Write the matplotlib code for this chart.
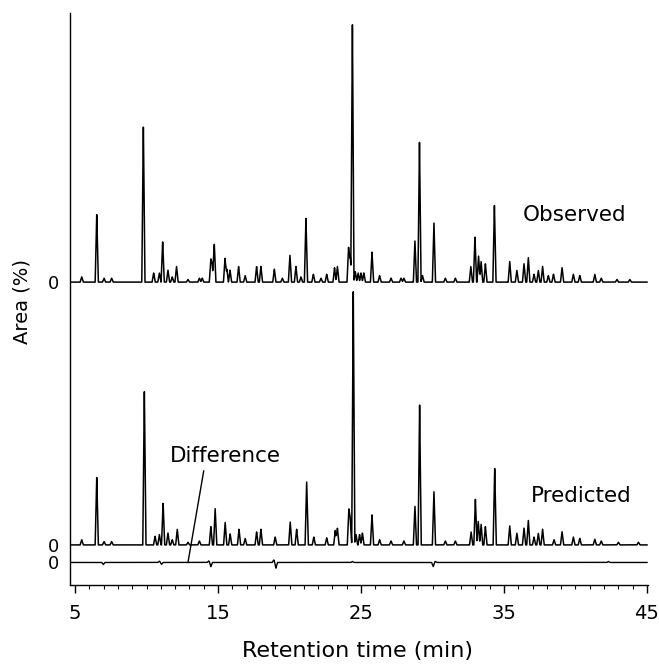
import numpy as np
import matplotlib
matplotlib.use("Agg")
import matplotlib.pyplot as plt
from matplotlib.ticker import MultipleLocator

# peak retention times (min) and heights (% area, arbitrary scale)
obs_time = [5.47, 6.52, 7.03, 7.56, 9.78, 10.5, 10.9, 11.13, 11.5, 11.8, 12.1, 12.9,
            13.7, 13.9, 14.5, 14.6, 14.74, 15.49, 15.62, 15.84, 16.44, 16.9, 17.7, 18.0,
            18.94, 19.5, 20.03, 20.45, 20.8, 21.15, 21.67, 22.2, 22.6, 23.15, 23.35,
            24.13, 24.25, 24.4, 24.6, 24.8, 25.0, 25.2, 25.77, 26.3, 27.1, 27.8, 28.0,
            28.77, 29.09, 29.3, 30.1, 30.9, 31.6, 32.68, 32.97, 33.22, 33.4, 33.7, 34.33,
            35.4, 35.9, 36.4, 36.7, 37.1, 37.4, 37.7, 38.1, 38.46, 39.06, 39.85, 40.3,
            41.35, 41.8, 42.9, 43.8]
obs_area = [2, 26, 1.5, 1.5, 60, 3.5, 3.5, 15.5, 4.6, 2, 6, 1,
            1.5, 1.5, 8.4, 6, 14.5, 9.2, 5, 4.6, 6, 2.5, 6, 6,
            5, 1.5, 10.3, 6, 2, 24.4, 3, 1.5, 3, 5.5, 6,
            13.5, 10, 99, 4, 3.5, 3.5, 3.5, 11.5, 2.5, 1.5, 1.5, 1.5,
            16, 53.5, 2.5, 23, 1.5, 1.5, 6, 17.3, 10, 8, 7, 29.4,
            8, 4.5, 7, 9.5, 3, 4.5, 6, 2.5, 3, 5.5, 3, 2.5,
            3, 1.5, 1, 1]

pred_time = [5.47, 6.52, 7.03, 7.56, 9.85, 10.6, 10.9, 11.16, 11.5, 11.8, 12.15, 12.9,
             13.7, 14.5, 14.8, 15.5, 15.85, 16.47, 16.9, 17.7, 18.0, 19.0, 20.05, 20.5,
             21.2, 21.7, 22.6, 23.2, 23.35, 24.15, 24.25, 24.46, 24.65, 24.9, 25.1,
             25.77, 26.3, 27.1, 28.0, 28.77, 29.1, 30.1, 30.9, 31.6, 32.7, 33.0, 33.2,
             33.4, 33.7, 34.35, 35.4, 35.9, 36.4, 36.7, 37.1, 37.4, 37.7, 38.5, 39.06,
             39.85, 40.3, 41.35, 41.8, 43.0, 44.4]
pred_area = [2, 26, 1.3, 1.3, 59, 3.3, 4, 16, 4.6, 2, 6, 1,
             1.5, 7, 14, 8.7, 4.2, 6, 2.5, 5, 6, 3, 8.8, 6,
             24, 3, 2.7, 5.5, 6.4, 13, 9, 97, 4, 4, 4.5,
             11.5, 2, 1.5, 1.5, 15, 53.5, 20.7, 1.5, 1.5, 5, 17.5, 9,
             8, 7, 29.3, 7.4, 4.5, 6.4, 9.5, 3, 4.5, 6, 2, 5,
             3, 2.5, 2.2, 1.5, 1, 1]

diff_time = [6.98, 10.9, 11.05, 14.35, 14.5, 18.9, 19.05, 24.4, 30.05, 30.2, 42.3]
diff_area = [-0.8, 0.5, -0.7, 0.6, -1.6, 1.0, -2.2, 0.4, -1.6, 0.4, 0.4]

x_major = [5, 15, 25, 35, 45]

# vertical offsets of the three traces (same units as area)
off_obs, off_pred, off_diff = 107.0, 6.7, 0.0
half_width = 0.11


def trace(tgrid, times, areas):
    y = np.zeros_like(tgrid)
    for t0, h in zip(times, areas):
        y += h * np.clip(1 - np.abs(tgrid - t0) / half_width, 0, None)
    return y


plt.rcParams.update({"font.family": "DejaVu Sans", "font.size": 14})
fig = plt.figure(figsize=(6.59, 6.64), dpi=100)
ax = fig.add_axes([70 / 659, 79 / 664, 578 / 659, 572 / 664])

t = np.linspace(4.7, 45.0, 8000)
ax.plot(t, trace(t, obs_time, obs_area) + off_obs, color="black", lw=1.1)
ax.plot(t, trace(t, pred_time, pred_area) + off_pred, color="black", lw=1.1)
ax.plot(t, trace(t, diff_time, diff_area) + off_diff, color="black", lw=1.0)

ax.set_xlim(4.65, 45.07)
ax.set_ylim(-8.6, 209.7)

for s in ("top", "right"):
    ax.spines[s].set_visible(False)
ax.spines["left"].set_linewidth(1.0)
ax.spines["bottom"].set_linewidth(1.0)

ax.set_xticks(x_major)
ax.set_xticklabels([str(v) for v in x_major], fontsize=14)
ax.xaxis.set_minor_locator(MultipleLocator(1))
ax.tick_params(axis="x", which="major", direction="out", length=6, width=1, pad=8)
ax.tick_params(axis="x", which="minor", direction="out", length=3, width=0.8)

ax.set_yticks([off_diff, off_pred, off_obs])
ax.set_yticklabels(["0", "0", "0"], fontsize=13)
ax.tick_params(axis="y", direction="out", length=0, pad=8)

fig.text(358 / 659, 1 - 651 / 664, "Retention time (min)", fontsize=16,
         ha="center", va="center")
fig.text(22 / 659, 1 - 302 / 664, "Area (%)", fontsize=14, rotation=90,
         ha="center", va="center")

ax.text(39.9, 132.6, "Observed", fontsize=15.5, ha="center", va="center")
ax.text(40.4, 25.4, "Predicted", fontsize=15.5, ha="center", va="center")
ax.text(15.5, 40.6, "Difference", fontsize=15.5, ha="center", va="center")
ax.plot([14.0, 12.9], [34.9, 0], color="black", lw=1.0)

fig.savefig("out.png", dpi=100)
